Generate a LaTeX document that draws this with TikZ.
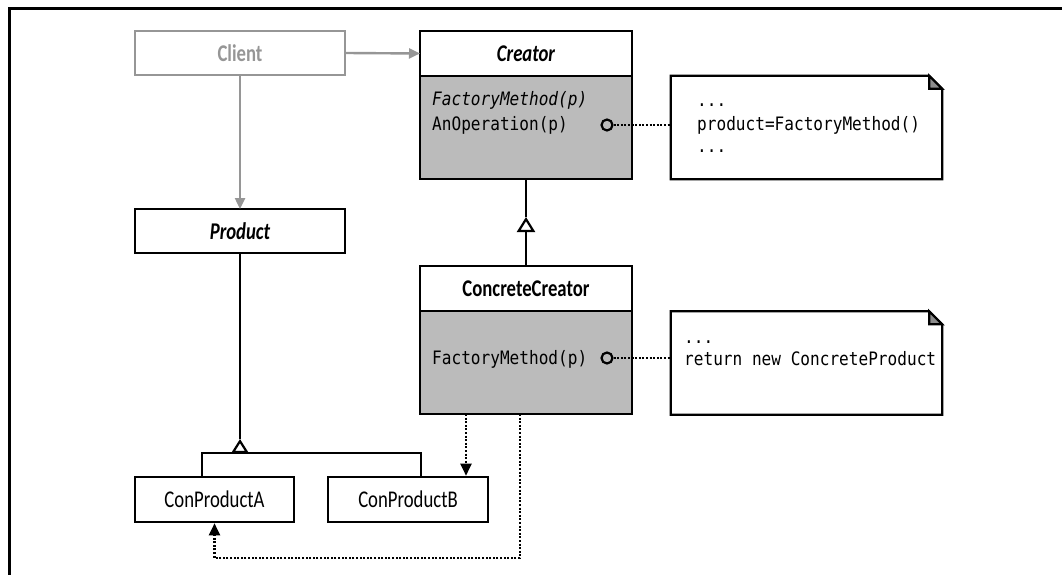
\documentclass[tikz,border=0pt]{standalone}
\usepackage{fontspec}
\setmainfont{Carlito}
\newfontfamily\lblfont{Carlito}[FakeStretch=0.78]
\newfontfamily\codefont{DejaVu Sans Mono}[FakeStretch=0.87]
\usetikzlibrary{arrows.meta}
\definecolor{bodygray}{RGB}{187,187,187}
\definecolor{clientgray}{RGB}{150,150,150}
\definecolor{foldgray}{RGB}{140,140,140}
\tikzset{
  boxline/.style={line width=2.6pt},
  clsbox/.style={draw, boxline, fill=white, inner sep=0pt, outer sep=0pt, minimum width=212pt, minimum height=45pt,
     font=\lblfont\fontsize{24}{26}\selectfont\bfseries},
  bodybox/.style={draw, boxline, fill=bodygray, inner sep=0pt, outer sep=0pt, minimum width=212pt, minimum height=103pt},
  prodbox/.style={draw, boxline, fill=white, inner sep=0pt, minimum height=45pt,
     font=\lblfont\fontsize{24}{26}\selectfont},
  clientbox/.style={draw=clientgray, line width=2.2pt, text=clientgray, inner sep=0pt, minimum width=210pt,
     minimum height=44pt, font=\lblfont\fontsize{24}{26}\selectfont\bfseries},
  code/.style={anchor=base west, inner sep=0pt, font=\codefont\fontsize{18.5}{20}\selectfont},
  notearea/.style={inner sep=0pt, minimum width=271pt, minimum height=103pt},
  noteline/.style={line width=2.2pt, line join=miter},
  conn/.style={line width=2.2pt},
  grayconn/.style={line width=2.4pt, draw=clientgray, -{Triangle[length=11pt,width=10pt]}},
  dotconn/.style={line width=2.2pt, dash pattern=on 2pt off 1.6pt},
  filledtip/.style={-{Triangle[length=12pt,width=11pt]}},
  opentip/.style={-{Triangle[open,length=15pt,width=18pt]}},
  port/.style={circle, draw, line width=2.2pt, minimum size=11pt, inner sep=0pt}
}
\begin{document}
\begin{tikzpicture}[x=1pt,y=-1pt]
\useasboundingbox (0,0) rectangle (1062,575);
% frame
\draw[line width=3pt] (9,577) -- (9,9) -- (1064,9);

% classes
\node[clientbox] (client) at (240,53) {Client};
\node[clsbox] (creator) at (526,53.5) {\itshape Creator};
\node[bodybox, anchor=north] (creatorbody) at (creator.south) {};
\node[clsbox, minimum width=210pt, minimum height=44pt] (product) at (240,231) {\itshape Product};
\node[clsbox] (cc) at (526,288.5) {ConcreteCreator};
\node[bodybox, anchor=north] (ccbody) at (cc.south) {};
\node[prodbox, minimum width=159pt] (cpa) at (214.5,499.5) {ConProductA};
\node[prodbox, minimum width=160pt] (cpb) at (408,499.5) {ConProductB};

% operations
\node[code] (fm1) at (432,106) {\itshape FactoryMethod(p)};
\node[code] (anop) at (432,131) {AnOperation(p)};
\node[code] (fm2) at (432,364) {FactoryMethod(p)};
\node[port] (p1) at (607,125) {};
\node[port] (p2) at (607,358) {};

% notes
\node[notearea] (note1) at (806.5,127.5) {};
\node[notearea] (note2) at (806.5,363) {};
\foreach \n in {note1,note2}{
  \draw[noteline, fill=white] (\n.south west) -- (\n.north west) -- ([xshift=-13pt]\n.north east)
     -- ([yshift=-13pt]\n.north east) -- (\n.south east) -- cycle;
  \draw[noteline, fill=foldgray] ([xshift=-13pt]\n.north east) -- ([xshift=-13pt,yshift=-13pt]\n.north east)
     -- ([yshift=-13pt]\n.north east) -- cycle;
}
\node[code] (n1a) at (697,107) {...};
\node[code] (n1b) at (697,131) {product=FactoryMethod()};
\node[code] (n1c) at (697,152) {...};
\node[code] (n2a) at (684,343) {...};
\node[code] (n2b) at (684,365) {return new ConcreteProduct};

% note links
\draw[dotconn] (p1.east) -- (p1 -| note1.west);
\draw[dotconn] (p2.east) -- (p2 -| note2.west);

% client associations
\draw[grayconn] (client.east) -- (creator.west);
\draw[grayconn] (client.south) -- (product.north);

% creator generalization
\coordinate (gtip) at (526,217);
\draw[conn] (creatorbody.south) -- (gtip);
\draw[conn, opentip] (cc.north) -- (gtip);

% product generalization
\coordinate (ptip) at (240,439);
\coordinate (barL) at (202,453);
\coordinate (barM) at (240,453);
\coordinate (barR) at (421,453);
\draw[conn] (product.south) -- (ptip);
\draw[conn, line join=miter] (barL |- cpa.north) -- (barL) -- (barR) -- (barR |- cpb.north);
\draw[conn, -{Triangle[open,length=14pt,width=17pt]}] (barM) -- (ptip);

% creation dependencies
\coordinate (d1) at (466,0);
\coordinate (d2) at (520,558);
\draw[dotconn, filledtip] (d1 |- ccbody.south) -- (d1 |- cpb.north);
\draw[dotconn, filledtip] (d2 |- ccbody.south) -- (d2) -- (d2 -| cpa.south) -- (cpa.south);
\end{tikzpicture}
\end{document}
